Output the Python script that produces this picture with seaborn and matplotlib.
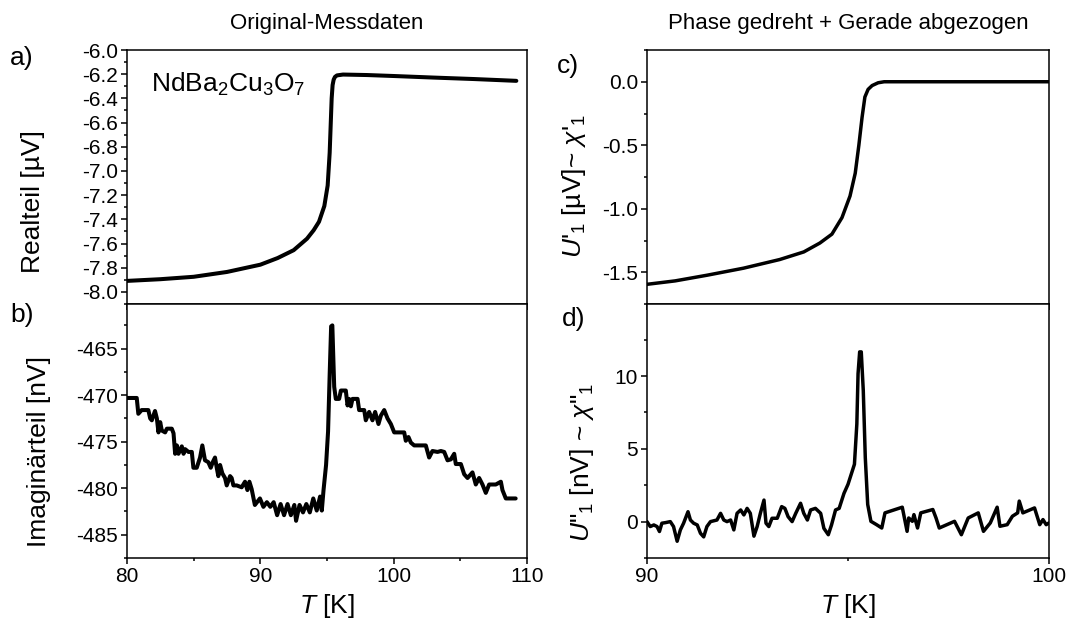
import matplotlib
matplotlib.use("Agg")
import matplotlib.pyplot as plt
import seaborn as sns
from matplotlib.ticker import MultipleLocator, FormatStrFormatter

# ---------------- data ----------------
# a) Realteil [µV]
T_re = [80.0, 82.5, 85.0, 87.5, 90.0, 91.3, 92.5, 93.5, 94.0, 94.4, 94.8, 95.05,
        95.2, 95.3, 95.35, 95.42, 95.5, 95.6, 95.75, 96.2, 98.0, 100.0, 103.0, 106.0, 109.2]
V_re = [-7.909, -7.895, -7.875, -7.835, -7.775, -7.72, -7.655, -7.56, -7.49, -7.42,
        -7.29, -7.12, -6.85, -6.55, -6.40, -6.29, -6.245, -6.222, -6.21, -6.203,
        -6.207, -6.215, -6.228, -6.240, -6.255]

# b) Imaginärteil [nV]
T_im = [80.0, 80.73, 80.85, 81.1, 81.6, 81.74, 81.86, 82.1, 82.24, 82.36,
        82.49, 82.61, 82.86, 82.99, 83.36, 83.49, 83.61, 83.74, 83.86, 84.11,
        84.24, 84.36, 84.61, 84.86, 84.98, 85.23, 85.48, 85.65, 85.85, 86.1,
        86.28, 86.43, 86.6, 86.73, 86.85, 86.98, 87.15, 87.35, 87.48, 87.73,
        87.85, 87.98, 88.23, 88.6, 88.85, 89.03, 89.18, 89.35, 89.59, 89.97,
        90.23, 90.49, 90.75, 91.0, 91.26, 91.52, 91.78, 92.04, 92.29, 92.55,
        92.68, 92.94, 93.2, 93.45, 93.71, 93.97, 94.23, 94.48, 94.61, 94.74,
        94.93, 95.08, 95.2, 95.31, 95.4, 95.54, 95.66, 95.91, 96.04, 96.41,
        96.54, 96.66, 96.79, 96.91, 97.29, 97.41, 97.79, 97.91, 98.16, 98.41,
        98.61, 98.86, 99.04, 99.29, 99.54, 99.79, 100.04, 100.79, 100.91, 101.11,
        101.29, 101.54, 102.41, 102.66, 102.91, 103.29, 103.54, 103.79, 104.04, 104.29,
        104.54, 104.66, 105.04, 105.29, 105.54, 105.91, 106.16, 106.41, 106.66, 106.91,
        107.16, 107.66, 108.04, 108.16, 108.41, 108.79, 109.15]
V_im = [-470.3, -470.3, -472.0, -471.6, -471.6, -472.5, -472.7, -471.7, -472.5, -474.0,
        -472.9, -473.8, -474.0, -473.6, -473.6, -474.1, -476.3, -475.4, -476.3, -475.5,
        -476.3, -475.8, -476.1, -476.1, -477.8, -477.8, -476.7, -475.4, -477.0, -477.2,
        -477.8, -477.2, -476.7, -477.8, -478.7, -477.5, -478.4, -478.9, -479.7, -478.7,
        -478.9, -479.7, -479.7, -479.9, -479.3, -480.2, -479.3, -480.1, -481.8, -481.1,
        -482.0, -481.5, -482.0, -481.5, -482.9, -481.7, -482.9, -481.7, -482.9, -481.8,
        -483.5, -481.8, -482.6, -481.7, -482.6, -481.1, -482.4, -480.9, -482.4, -480.2,
        -477.5, -473.9, -467.8, -462.6, -462.5, -469.1, -470.4, -470.4, -469.5, -469.5,
        -471.1, -470.4, -471.2, -470.4, -470.4, -471.6, -471.6, -472.7, -471.8, -472.7,
        -471.8, -473.1, -472.2, -471.6, -472.5, -473.1, -474.0, -474.0, -474.9, -474.5,
        -475.1, -475.4, -475.4, -476.7, -476.0, -476.1, -476.0, -476.1, -477.0, -476.9,
        -476.3, -477.4, -477.4, -478.5, -478.9, -478.3, -479.6, -478.9, -479.6, -480.5,
        -479.6, -479.6, -479.3, -480.2, -481.1, -481.1, -481.1]

# c) U1' [µV]
T_c1 = [90.0, 90.7, 91.5, 92.4, 93.3, 93.9, 94.3, 94.6, 94.85, 95.05, 95.18, 95.27,
        95.35, 95.42, 95.5, 95.6, 95.75, 95.9, 97.0, 98.5, 100.0]
V_c1 = [-1.595, -1.568, -1.523, -1.468, -1.40, -1.34, -1.27, -1.20, -1.07, -0.90,
        -0.72, -0.50, -0.28, -0.12, -0.06, -0.03, -0.008, 0.0, 0.0, 0.0, 0.0]

# d) U1'' [nV]
T_c2 = [90.0, 90.08, 90.17, 90.25, 90.31, 90.37, 90.46, 90.58, 90.66, 90.75,
        90.83, 90.91, 91.02, 91.08, 91.16, 91.25, 91.33, 91.41, 91.49, 91.58,
        91.74, 91.83, 91.91, 91.99, 92.08, 92.16, 92.24, 92.33, 92.41, 92.49,
        92.57, 92.66, 92.74, 92.82, 92.91, 92.96, 93.03, 93.11, 93.24, 93.35,
        93.43, 93.51, 93.61, 93.70, 93.82, 93.90, 93.99, 94.07, 94.19, 94.32,
        94.40, 94.51, 94.59, 94.69, 94.78, 94.90, 95.0, 95.08, 95.16, 95.22,
        95.25, 95.29, 95.33, 95.38, 95.43, 95.49, 95.57, 95.71, 95.84, 95.92,
        96.35, 96.47, 96.51, 96.6, 96.64, 96.73, 96.81, 97.11, 97.19, 97.27,
        97.65, 97.82, 97.99, 98.24, 98.37, 98.54, 98.71, 98.78, 98.96, 99.09,
        99.22, 99.26, 99.35, 99.64, 99.77, 99.85, 99.93, 100.0]
V_c2 = [0, -0.34, -0.23, -0.34, -0.68, -0.11, -0.07, 0, -0.34, -1.35,
        -0.57, -0.11, 0.68, 0.11, -0.11, -0.23, -0.80, -1.05, -0.34, 0,
        0.11, 0.57, 0.11, 0, 0.11, -0.57, 0.57, 0.80, 0.46, 0.91,
        0.57, -1.0, -0.34, 0.57, 1.48, -0.11, -0.34, 0.23, 0.23, 1.03,
        0.91, 0.34, 0, 0.57, 1.26, 0.57, 0.11, 0.80, 0.91, 0.57,
        -0.46, -0.90, -0.23, 0.80, 0.91, 1.94, 2.56, 3.25, 3.94, 6.71,
        10.16, 11.66, 11.66, 9.0, 4.4, 1.18, 0.02, -0.21, -0.44, 0.6,
        0.99, -0.67, 0.25, 0.02, 0.48, -0.44, 0.6, 0.83, 0.25, -0.44,
        0.02, -0.9, 0.25, 0.6, -0.67, -0.09, 0.99, -0.32, -0.21, 0.37,
        0.6, 1.41, 0.6, 0.94, -0.21, 0.14, -0.21, -0.09]

titles = ["Original-Messdaten", "Phase gedreht + Gerade abgezogen"]
panel_letters = ["a)", "b)", "c)", "d)"]

# ---------------- style ----------------
sns.set_theme(style="ticks")
plt.rcParams["font.family"] = ["Liberation Sans", "DejaVu Sans"]
plt.rcParams["axes.unicode_minus"] = False
plt.rcParams["mathtext.fontset"] = "custom"
plt.rcParams["mathtext.rm"] = "Liberation Sans"
plt.rcParams["mathtext.it"] = "Liberation Sans:italic"
plt.rcParams["mathtext.bf"] = "Liberation Sans:bold"
for key in ("text.color", "axes.labelcolor", "xtick.color", "ytick.color", "axes.edgecolor"):
    plt.rcParams[key] = "black"

W, H = 1071, 633
fig = plt.figure(figsize=(W / 100, H / 100), dpi=100)

def px_axes(x0, y0, x1, y1):
    return fig.add_axes([x0 / W, 1 - y1 / H, (x1 - x0) / W, (y1 - y0) / H])

LX0, LX1 = 127, 527
RX0, RX1 = 647, 1049
TY0, MY, BY = 50, 304, 558

ax_a = px_axes(LX0, TY0, LX1, MY)
ax_b = px_axes(LX0, MY, LX1, BY)
ax_c = px_axes(RX0, TY0, RX1, MY)
ax_d = px_axes(RX0, MY, RX1, BY)

sns.lineplot(x=T_re, y=V_re, ax=ax_a, color="black", linewidth=2.9, estimator=None, sort=False)
sns.lineplot(x=T_im, y=V_im, ax=ax_b, color="black", linewidth=2.9, estimator=None, sort=False)
sns.lineplot(x=T_c1, y=V_c1, ax=ax_c, color="black", linewidth=2.5, estimator=None, sort=False)
sns.lineplot(x=T_c2, y=V_c2, ax=ax_d, color="black", linewidth=2.5, estimator=None, sort=False)

for ax in (ax_a, ax_b, ax_c, ax_d):
    for s in ax.spines.values():
        s.set_visible(True)
        s.set_linewidth(1.1)
        s.set_color("black")
    ax.tick_params(which="major", direction="out", length=4.5, width=1.1,
                   labelsize=15, pad=2, colors="black", top=False, right=False)
    ax.tick_params(which="minor", direction="out", length=2.5, width=1.1,
                   colors="black", top=False, right=False)
    ax.set_xlabel("")
    ax.set_ylabel("")

# left panels
for ax in (ax_a, ax_b):
    ax.set_xlim(80, 110)
    ax.xaxis.set_major_locator(MultipleLocator(10))
    ax.xaxis.set_minor_locator(MultipleLocator(5))
ax_a.set_ylim(-8.1, -6.0)
ax_a.yaxis.set_major_locator(MultipleLocator(0.2))
ax_a.yaxis.set_minor_locator(MultipleLocator(0.1))
ax_a.yaxis.set_major_formatter(FormatStrFormatter("%.1f"))
ax_a.tick_params(axis="x", which="both", labelbottom=False)
ax_b.set_ylim(-487.5, -460.2)
ax_b.yaxis.set_major_locator(MultipleLocator(5))
ax_b.yaxis.set_minor_locator(MultipleLocator(2.5))

# right panels
for ax in (ax_c, ax_d):
    ax.set_xlim(90, 100)
    ax.xaxis.set_major_locator(MultipleLocator(10))
    ax.xaxis.set_minor_locator(MultipleLocator(5))
ax_c.set_ylim(-1.75, 0.25)
ax_c.yaxis.set_major_locator(MultipleLocator(0.5))
ax_c.yaxis.set_minor_locator(MultipleLocator(0.25))
ax_c.yaxis.set_major_formatter(FormatStrFormatter("%.1f"))
ax_c.tick_params(axis="x", which="both", labelbottom=False)
ax_d.set_ylim(-2.5, 14.95)
ax_d.yaxis.set_major_locator(MultipleLocator(5))
ax_d.yaxis.set_minor_locator(MultipleLocator(2.5))

# axis labels (x of label coords = right edge of the rotated text)
lab_fs = 19
ax_a.set_ylabel("Realteil [µV]", fontsize=lab_fs)
ax_a.yaxis.set_label_coords(-0.205, 0.404)
ax_b.set_ylabel("Imaginärteil [nV]", fontsize=lab_fs)
ax_b.yaxis.set_label_coords(-0.19, 0.418)
ax_c.set_ylabel(r"$U$'$_1$ [µV]~ $\chi$'$_1$", fontsize=lab_fs)
ax_c.yaxis.set_label_coords(-0.148, 0.463)
ax_d.set_ylabel(r'$U$"$_1$ [nV] ~ $\chi$"$_1$', fontsize=lab_fs)
ax_d.yaxis.set_label_coords(-0.127, 0.375)
for ax in (ax_b, ax_d):
    ax.set_xlabel(r"$T$ [K]", fontsize=lab_fs, labelpad=4)

# titles
fig.text((LX0 + LX1) / 2 / W, 1 - 24 / H, titles[0], ha="center", va="center", fontsize=16)
fig.text((RX0 + RX1) / 2 / W, 1 - 23 / H, titles[1], ha="center", va="center", fontsize=16)

# panel letters
letter_pos = [(10, 58), (10, 315), (557, 66), (562, 319)]
for lab, (x, y) in zip(panel_letters, letter_pos):
    fig.text(x / W, 1 - y / H, lab, ha="left", va="center", fontsize=19)

# sample name
ax_a.text(0.059, 0.837, r"NdBa$_2$Cu$_3$O$_7$", transform=ax_a.transAxes,
          fontsize=19, ha="left", va="baseline")

fig.savefig("out.png", dpi=100)
